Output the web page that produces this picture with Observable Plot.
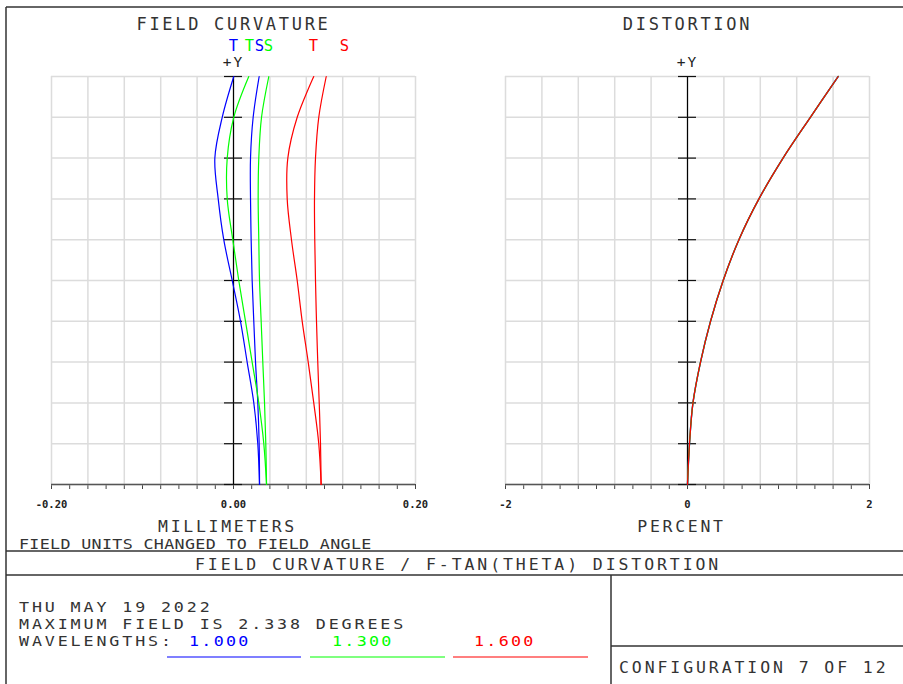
<!DOCTYPE html>
<html>
<head>
<meta charset="utf-8">
<script src="https://cdn.jsdelivr.net/npm/d3@7"></script>
<script src="https://cdn.jsdelivr.net/npm/@observablehq/plot@0.6"></script>
<style>
  html, body { margin: 0; padding: 0; background: #fff; }
  #root { position: relative; width: 903px; height: 684px; overflow: hidden; background: #fff; }
  .panel { position: absolute; top: 0; }
  #overlay { position: absolute; left: 0; top: 0; pointer-events: none; }
  g[font-size="17"] text, g[font-size="16.5"] text { letter-spacing: 2.7px; }
  g[font-size="14.5"] text { letter-spacing: 2px; }
  #overlay text { font-family: "DejaVu Sans Mono", monospace; }
</style>
</head>
<body>
<div id="root">
  <div id="left" class="panel" style="left:0px"></div>
  <div id="right" class="panel" style="left:460px"></div>
  <svg id="overlay" width="903" height="684"></svg>
</div>
<script>
// ---------------- DATA ----------------
// Normalized field (0 = axis, 1 = max field 2.338 deg)
const fieldLevels = [0, 0.1, 0.2, 0.3, 0.4, 0.5, 0.6, 0.7, 0.8, 0.9, 1.0];
// Field curvature (mm) at each field level
const tanBlue   = [0.0286, 0.0267, 0.0223, 0.0150, 0.0077, -0.0014, -0.0107, -0.0168, -0.0205, -0.0124, 0.0003];
const sagBlue   = [0.0286, 0.0282, 0.0267, 0.0242, 0.0223, 0.0205, 0.0194, 0.0187, 0.0187, 0.0216, 0.0282];
const tanGreen  = [0.0363, 0.0333, 0.0278, 0.0205, 0.0132, 0.0058, -0.0008, -0.0069, -0.0069, 0.0003, 0.0168];
const sagGreen  = [0.0363, 0.0355, 0.0341, 0.0322, 0.0304, 0.0286, 0.0278, 0.0271, 0.0278, 0.0308, 0.0388];
const tanRed    = [0.0963, 0.0937, 0.0882, 0.0821, 0.0755, 0.0700, 0.0637, 0.0590, 0.0597, 0.0700, 0.0882];
const sagRed    = [0.0963, 0.0956, 0.0942, 0.0926, 0.0912, 0.0901, 0.0893, 0.0890, 0.0901, 0.0937, 0.1019];
// F-tan(theta) distortion (%) - identical for all three wavelengths
const distortion = [0, 0.022, 0.060, 0.143, 0.253, 0.392, 0.565, 0.785, 1.050, 1.350, 1.656];

const seriesColors = { blue: "#0000ff", green: "#00ff00", red: "#ff0000" };
const legendLetters = ["T", "T", "S", "S", "T", "S"];
const legendColorKeys = ["blue", "green", "blue", "green", "red", "red"];
const legendMm = [0.0, 0.0176, 0.0286, 0.0385, 0.0879, 0.1220];

const mmGrid = [-0.2, -0.16, -0.12, -0.08, -0.04, 0, 0.04, 0.08, 0.12, 0.16, 0.2];
const mmTicks = [-0.2, -0.18, -0.16, -0.14, -0.12, -0.1, -0.08, -0.06, -0.04, -0.02, 0,
                 0.02, 0.04, 0.06, 0.08, 0.1, 0.12, 0.14, 0.16, 0.18, 0.2];
const mmLabelValues = [-0.2, 0, 0.2];
const mmLabels = ["-0.20", "0.00", "0.20"];

const pctGrid = [-2, -1.6, -1.2, -0.8, -0.4, 0, 0.4, 0.8, 1.2, 1.6, 2];
const pctTicks = [-2, -1.8, -1.6, -1.4, -1.2, -1, -0.8, -0.6, -0.4, -0.2, 0,
                  0.2, 0.4, 0.6, 0.8, 1, 1.2, 1.4, 1.6, 1.8, 2];
const pctLabelValues = [-2, 0, 2];
const pctLabels = ["-2", "0", "2"];

const wavelengths = ["1.000", "1.300", "1.600"];
const wavelengthColorKeys = ["blue", "green", "red"];

// ---------------- HELPERS ----------------
const FONT = "DejaVu Sans Mono";
const rows = (vals) => fieldLevels.map((f, i) => ({ field: f, value: vals[i] }));
const gridColor = "#dcdcdc";
const CURVE = "catmull-rom";

function commonMarks(gridVals, labelVals, labels) {
  return [
    Plot.ruleX(gridVals, { stroke: gridColor, strokeWidth: 1.5 }),
    Plot.ruleY(fieldLevels, { stroke: gridColor, strokeWidth: 1.5 }),
    Plot.ruleY([0], { stroke: "#555", strokeWidth: 1.3 }),
    Plot.ruleX([0], { stroke: "#000", strokeWidth: 1.2 }),
    Plot.ruleY(fieldLevels, { x1: 0, x2: 0, insetLeft: -9, insetRight: -9, stroke: "#111", strokeWidth: 1.2 }),
    Plot.text(["+Y"], { x: () => 0, frameAnchor: "top", dy: -14, lineAnchor: "middle",
      fontFamily: FONT, fontSize: 14.5, fill: "#222", text: d => d }),
    Plot.text(labelVals, { x: d => d, frameAnchor: "bottom", dy: 20.5, lineAnchor: "middle",
      fontFamily: FONT, fontSize: 10.5, fontWeight: "bold", fill: "#222", text: (d, i) => labels[i] })
  ];
}

// ---------------- LEFT PANEL: FIELD CURVATURE ----------------
const left = Plot.plot({
  width: 460, height: 551,
  marginLeft: 51, marginRight: 45, marginTop: 76, marginBottom: 67,
  x: { domain: [-0.2, 0.2], ticks: mmTicks, tickFormat: () => "", tickSize: 5, label: null },
  y: { domain: [0, 1], axis: null },
  style: { background: "transparent", color: "#444", overflow: "visible" },
  marks: [
    ...commonMarks(mmGrid, mmLabelValues, mmLabels),
    Plot.line(rows(tanBlue),  { x: "value", y: "field", stroke: seriesColors.blue,  strokeWidth: 1.2, curve: CURVE }),
    Plot.line(rows(sagBlue),  { x: "value", y: "field", stroke: seriesColors.blue,  strokeWidth: 1.2, curve: CURVE }),
    Plot.line(rows(tanGreen), { x: "value", y: "field", stroke: seriesColors.green, strokeWidth: 1.2, curve: CURVE }),
    Plot.line(rows(sagGreen), { x: "value", y: "field", stroke: seriesColors.green, strokeWidth: 1.2, curve: CURVE }),
    Plot.line(rows(tanRed),   { x: "value", y: "field", stroke: seriesColors.red,   strokeWidth: 1.2, curve: CURVE }),
    Plot.line(rows(sagRed),   { x: "value", y: "field", stroke: seriesColors.red,   strokeWidth: 1.2, curve: CURVE }),
    Plot.text(legendLetters, { x: (d, i) => legendMm[i], frameAnchor: "top", dy: -30, lineAnchor: "middle",
      fontFamily: FONT, fontSize: 15.5, fill: (d, i) => seriesColors[legendColorKeys[i]], text: d => d }),
    Plot.text(["FIELD CURVATURE"], { frameAnchor: "top", dy: -51.5, lineAnchor: "middle",
      fontFamily: FONT, fontSize: 17, fill: "#333", text: d => d }),
    Plot.text(["MILLIMETERS"], { x: () => 0, frameAnchor: "bottom", dx: -6, dy: 42, lineAnchor: "middle",
      fontFamily: FONT, fontSize: 16.5, fill: "#333", text: d => d })
  ]
});
document.getElementById("left").appendChild(left);

// ---------------- RIGHT PANEL: DISTORTION ----------------
const right = Plot.plot({
  width: 443, height: 551,
  marginLeft: 45, marginRight: 34, marginTop: 76, marginBottom: 67,
  x: { domain: [-2, 2], ticks: pctTicks, tickFormat: () => "", tickSize: 5, label: null },
  y: { domain: [0, 1], axis: null },
  style: { background: "transparent", color: "#444", overflow: "visible" },
  marks: [
    ...commonMarks(pctGrid, pctLabelValues, pctLabels),
    Plot.line(rows(distortion), { x: "value", y: "field", stroke: seriesColors.blue,  strokeWidth: 1.4, curve: CURVE }),
    Plot.line(rows(distortion), { x: "value", y: "field", stroke: seriesColors.green, strokeWidth: 1.3, curve: CURVE }),
    Plot.line(rows(distortion), { x: "value", y: "field", stroke: seriesColors.red,   strokeWidth: 1.2, curve: CURVE }),
    Plot.text(["DISTORTION"], { frameAnchor: "top", dy: -51.5, lineAnchor: "middle",
      fontFamily: FONT, fontSize: 17, fill: "#333", text: d => d }),
    Plot.text(["PERCENT"], { x: () => 0, frameAnchor: "bottom", dx: -6, dy: 42, lineAnchor: "middle",
      fontFamily: FONT, fontSize: 16.5, fill: "#333", text: d => d })
  ]
});
document.getElementById("right").appendChild(right);

// ---------------- FRAME & FOOTER ----------------
const ov = d3.select("#overlay");
const frameLines = [
  [6, 7, 903, 7], [6, 7, 6, 684], [6, 551, 903, 551], [6, 575, 903, 575],
  [611, 575, 611, 684], [611, 646, 903, 646]
];
ov.selectAll("line.frame").data(frameLines).join("line")
  .attr("class", "frame")
  .attr("x1", d => d[0]).attr("y1", d => d[1]).attr("x2", d => d[2]).attr("y2", d => d[3])
  .attr("stroke", "#333").attr("stroke-width", 1.5);

// text drawn with a slight horizontal stretch to mimic the wide plotter font
function addText(str, x, y, size, ls, fill, sx) {
  ov.append("text")
    .attr("transform", `translate(${x},${y}) scale(${sx || 1},1)`)
    .attr("font-size", size)
    .style("letter-spacing", ls + "px")
    .style("fill", fill || "#333")
    .text(str);
}
addText("FIELD UNITS CHANGED TO FIELD ANGLE", 19, 549, 14.5, 0.3, "#333", 1.15);
addText("FIELD CURVATURE / F-TAN(THETA) DISTORTION", 195, 570, 16.5, 2.9);
addText("THU MAY 19 2022", 19, 612, 14.5, 2.5, "#333", 1.15);
addText("MAXIMUM FIELD IS 2.338 DEGREES", 19, 629, 14.5, 2.5, "#333", 1.15);
addText("WAVELENGTHS:", 19, 646, 14.5, 2.5, "#333", 1.15);
const wlX = [189, 332, 474];
const ulX = [[167, 301], [310, 445], [453, 588]];
wavelengths.forEach((w, i) => {
  addText(w, wlX[i], 646, 14.5, 2.0, seriesColors[wavelengthColorKeys[i]], 1.15);
  ov.append("line").attr("x1", ulX[i][0]).attr("x2", ulX[i][1]).attr("y1", 657).attr("y2", 657)
    .attr("stroke", seriesColors[wavelengthColorKeys[i]]).attr("stroke-width", 1.2);
});
addText("CONFIGURATION 7 OF 12", 619, 673, 16.5, 2.9);
</script>
</body>
</html>
